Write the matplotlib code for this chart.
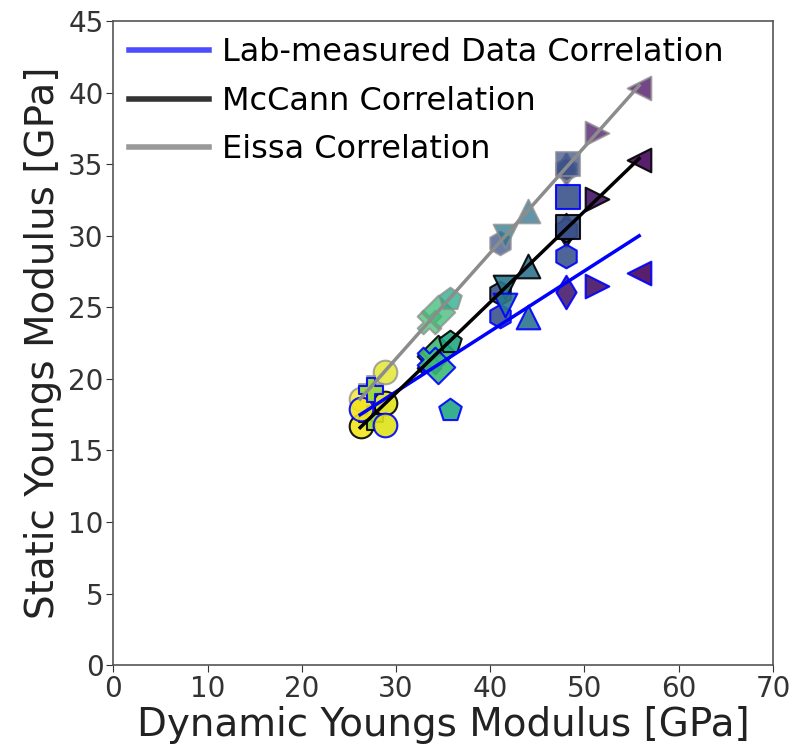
import numpy as np
import matplotlib
matplotlib.use("Agg")
from matplotlib import pyplot as plt
from matplotlib.lines import Line2D

# one entry per sample: marker, dynamic modulus and colour value (viridis)
markers = ["o", "o", "P", "X", "D", "p", "h", "v", "^", "d", "h", "s", ">", "<"]
dynamic = [26.3, 28.8, 27.3, 33.5, 34.5, 35.7, 41.0, 41.6, 44.0, 48.0, 48.0, 48.3, 51.3, 55.8]
color_val = [0.98, 0.95, 0.85, 0.70, 0.68, 0.60, 0.25, 0.40, 0.38, 0.08, 0.26, 0.25, 0.05, 0.02]

# static modulus: lab-measured and from the two published correlations
static_lab = [17.9, 16.8, 19.2, 21.4, 20.8, 17.8, 24.4, 25.2, 24.3, 26.1, 28.6, 32.7, 26.5, 27.4]
static_mccann = [16.7, 18.3, 17.3, 21.2, 21.9, 22.6, 26.0, 26.4, 27.9, 30.4, 30.4, 30.6, 32.6, 35.3]
static_eissa = [18.6, 20.5, 19.4, 24.0, 24.7, 25.6, 29.5, 30.0, 31.7, 34.7, 34.7, 35.0, 37.2, 40.3]

# correlation lines (end points)
line_x = [26.2, 55.8]
line_lab = [17.5, 30.0]
line_mccann = [16.6, 35.4]
line_eissa = [18.6, 40.5]

fig = plt.figure(figsize=(7.92, 7.55), dpi=100)
ax = fig.add_axes([0.143, 0.119, 0.833, 0.853])

cmap = plt.get_cmap("viridis")
size = 290

groups = [
    (static_eissa, "#8c8c8c", 0.75),
    (static_mccann, "black", 0.9),
    (static_lab, "blue", 0.9),
]
for ys, edge, alpha in groups:
    for m, x, y, c in zip(markers, dynamic, ys, color_val):
        ax.scatter(x, y, marker=m, s=size, color=cmap(c), edgecolors=edge,
                   linewidths=1.5, alpha=alpha, zorder=3)

ax.plot(line_x, line_lab, color="blue", lw=2.5, zorder=4)
ax.plot(line_x, line_mccann, color="black", lw=2.5, zorder=4)
ax.plot(line_x, line_eissa, color="#8c8c8c", lw=2.5, zorder=4)

ax.set_xlim(0, 70)
ax.set_ylim(0, 45)
ax.set_xticks(range(0, 71, 10))
ax.set_yticks(range(0, 46, 5))
ax.tick_params(labelsize=20, colors="#333333", length=5, pad=2)
for sp in ax.spines.values():
    sp.set_color("#555555")
    sp.set_linewidth(1.2)

ax.set_xlabel("Dynamic Youngs Modulus [GPa]", fontsize=28, color="#222222", labelpad=2)
ax.set_ylabel("Static Youngs Modulus [GPa]", fontsize=28, color="#222222", labelpad=4)

handles = [
    Line2D([], [], color="#4d4dff", lw=4),
    Line2D([], [], color="#333333", lw=4),
    Line2D([], [], color="#999999", lw=4),
]
labels = ["Lab-measured Data Correlation", "McCann Correlation", "Eissa Correlation"]
ax.legend(handles, labels, loc="upper left", frameon=False, fontsize=23,
          handlelength=2.5, handletextpad=0.4, labelspacing=0.55,
          borderaxespad=0.1, bbox_to_anchor=(0.0, 1.0))

fig.savefig("out.png", dpi=100)
